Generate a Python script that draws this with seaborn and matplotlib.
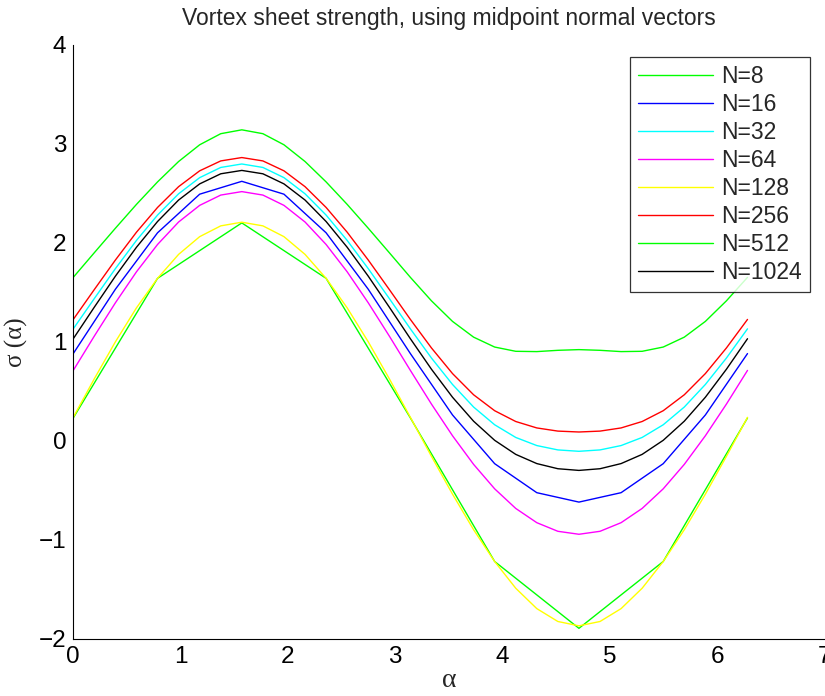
import numpy as np
import pandas as pd
import matplotlib
matplotlib.use("Agg")
import matplotlib.pyplot as plt
import seaborn as sns

# ---- data ----
labels = ["N=8", "N=16", "N=32", "N=64", "N=128", "N=256", "N=512", "N=1024"]
colors = ["#00ff00", "#0000ff", "#00ffff", "#ff00ff", "#ffff00", "#ff0000", "#00ff00", "#000000"]

sigma_8 = [0.23, 1.64, 2.20, 1.64, 0.23, -1.22, -1.895, -1.22, 0.23]
sigma_16 = [0.88, 1.53, 2.10, 2.49, 2.62, 2.49, 2.10, 1.53, 0.88,
            0.26, -0.232, -0.525, -0.62, -0.525, -0.232, 0.26, 0.88]
# smooth curves sampled every pi/16
sigma_32 = [1.130, 1.436, 1.738, 2.023, 2.279, 2.494, 2.657, 2.760, 2.795,
            2.760, 2.657, 2.494, 2.279, 2.023, 1.738, 1.436, 1.130,
            0.835, 0.568, 0.340, 0.161, 0.033, -0.049, -0.093, -0.107,
            -0.093, -0.049, 0.033, 0.161, 0.340, 0.568, 0.835, 1.130]
sigma_64 = [0.710, 1.057, 1.393, 1.706, 1.982, 2.209, 2.377, 2.481, 2.516,
            2.481, 2.377, 2.209, 1.982, 1.706, 1.393, 1.057, 0.710,
            0.370, 0.050, -0.239, -0.486, -0.684, -0.828, -0.915, -0.945,
            -0.915, -0.828, -0.684, -0.486, -0.239, 0.050, 0.370, 0.710]
sigma_128 = [0.236, 0.626, 0.999, 1.342, 1.640, 1.882, 2.061, 2.170, 2.207,
             2.170, 2.061, 1.882, 1.640, 1.342, 0.999, 0.626, 0.236,
             -0.158, -0.540, -0.899, -1.220, -1.490, -1.696, -1.826, -1.870,
             -1.826, -1.696, -1.490, -1.220, -0.899, -0.540, -0.158, 0.236]
sigma_256 = [1.225, 1.527, 1.825, 2.106, 2.356, 2.566, 2.726, 2.826, 2.860,
             2.826, 2.726, 2.566, 2.356, 2.106, 1.825, 1.527, 1.225,
             0.937, 0.678, 0.464, 0.303, 0.194, 0.129, 0.097, 0.088,
             0.097, 0.129, 0.194, 0.303, 0.464, 0.678, 0.937, 1.225]
sigma_512 = [1.650, 1.899, 2.146, 2.387, 2.614, 2.820, 2.989, 3.101, 3.140,
             3.101, 2.989, 2.820, 2.614, 2.387, 2.146, 1.899, 1.650,
             1.413, 1.205, 1.046, 0.946, 0.903, 0.900, 0.913, 0.920,
             0.913, 0.900, 0.903, 0.946, 1.046, 1.205, 1.413, 1.650]
sigma_1024 = [1.030, 1.349, 1.662, 1.954, 2.214, 2.431, 2.594, 2.696, 2.730,
              2.696, 2.594, 2.431, 2.214, 1.954, 1.662, 1.349, 1.030,
              0.722, 0.439, 0.197, 0.004, -0.138, -0.231, -0.283, -0.300,
              -0.283, -0.231, -0.138, 0.004, 0.197, 0.439, 0.722, 1.030]

series = [sigma_8, sigma_16, sigma_32, sigma_64, sigma_128, sigma_256, sigma_512, sigma_1024]

xticks = [0, 1, 2, 3, 4, 5, 6, 7]
yticks = [-2, -1, 0, 1, 2, 3, 4]

# ---- build long table ----
frames = []
for lab, vals in zip(labels, series):
    n = len(vals)
    alpha = np.linspace(0, 2 * np.pi, n)
    frames.append(pd.DataFrame({"alpha": alpha, "sigma": vals, "N": lab}))
df = pd.concat(frames, ignore_index=True)

sns.set_style("white")
plt.rcParams["font.family"] = ["Liberation Sans", "DejaVu Sans"]

fig = plt.figure(figsize=(8.25, 6.96), dpi=100)
ax = fig.add_axes([0.0888, 0.0823, 0.9105, 0.8535])

palette = dict(zip(labels, colors))
sns.lineplot(data=df, x="alpha", y="sigma", hue="N", hue_order=labels,
             palette=palette, estimator=None, sort=False, units="N",
             linewidth=1.0, ax=ax, legend=False)

ax.set_xlim(0, 7)
ax.set_ylim(-2, 4)
ax.set_xticks(xticks)
ax.set_yticks(yticks)
ax.set_xticklabels([str(t) for t in xticks])
ax.set_yticklabels([("\u2212" + str(-t)) if t < 0 else str(t) for t in yticks])
ax.tick_params(direction="in", length=5.3, width=0.8, labelsize=17.5, pad=5, colors="black")
for side in ["top", "right"]:
    ax.spines[side].set_visible(False)
for side in ["left", "bottom"]:
    ax.spines[side].set_color("black")
    ax.spines[side].set_linewidth(0.8)

ax.set_title("Vortex sheet strength, using midpoint normal vectors", fontsize=16.5, pad=14)
ax.set_xlabel("\u03b1", fontsize=20, labelpad=0, family=["Liberation Serif", "DejaVu Serif"])
ax.set_ylabel("\u03c3 (\u03b1)", fontsize=18, labelpad=8, family=["Liberation Serif", "DejaVu Serif"])

handles = [plt.Line2D([], [], color=c, linewidth=1.0) for c in colors]
leg = ax.legend(handles, labels, loc="upper right", bbox_to_anchor=(0.981, 0.98),
                borderaxespad=0, fontsize=16.5, frameon=True, fancybox=False,
                handlelength=3.3, handletextpad=0.35, labelspacing=0.22,
                borderpad=0.35)
leg.get_frame().set_edgecolor("black")
leg.get_frame().set_linewidth(0.9)

fig.savefig("out.png", dpi=100)
